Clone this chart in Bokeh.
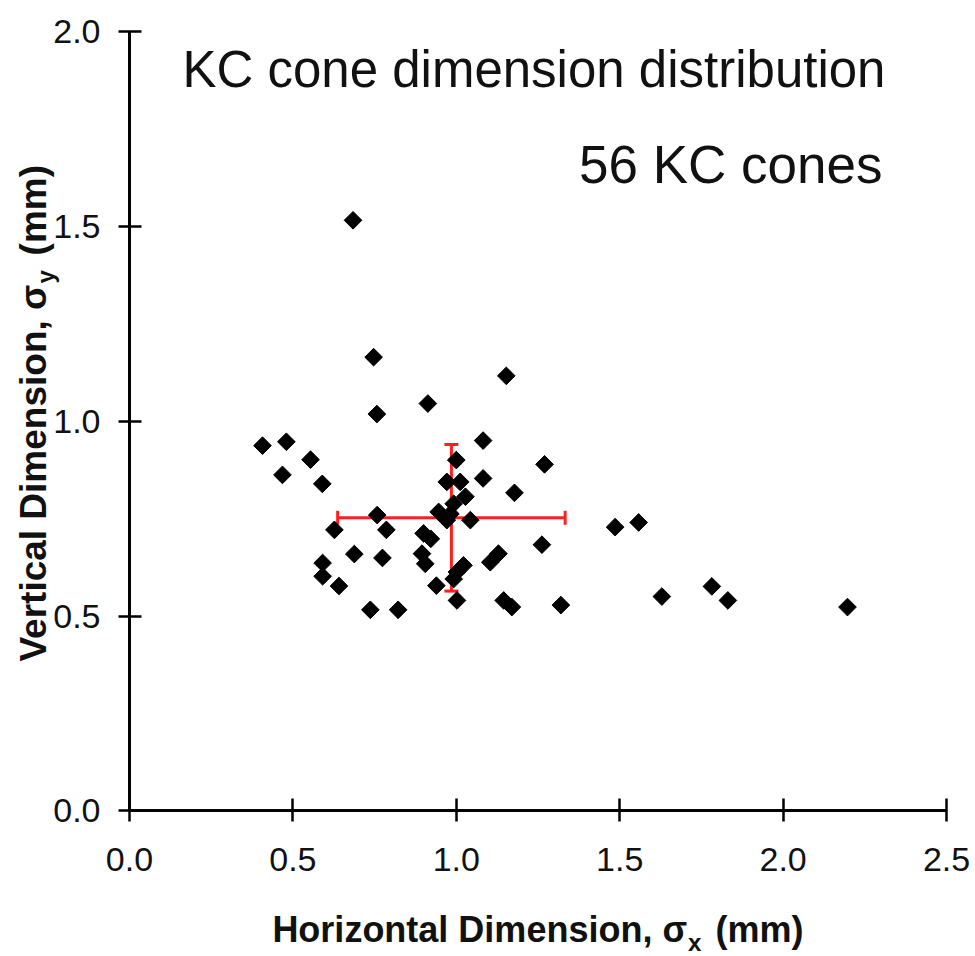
import math
from bokeh.plotting import figure
from bokeh.models import FixedTicker, Label, ColumnDataSource
from bokeh.embed import file_html
from bokeh.resources import INLINE

# ---- data ----
sigma_x = [0.684, 0.747, 1.153, 0.913, 0.757, 1.082, 0.407, 0.480, 0.468, 0.554,
           0.590, 1.270, 1.000, 1.082, 0.971, 1.012, 1.028, 1.178, 0.992, 0.946,
           0.982, 0.971, 1.043, 0.758, 0.786, 0.627, 0.688, 0.774, 0.591, 0.591,
           0.641, 0.737, 0.822, 0.900, 0.922, 0.895, 0.905, 0.939, 1.262, 1.129,
           1.104, 1.022, 1.002, 0.992, 1.002, 1.145, 1.170, 1.320, 1.486, 1.558,
           1.629, 1.782, 1.831, 2.197]
sigma_y = [1.515, 1.164, 1.116, 1.045, 1.018, 0.950, 0.937, 0.947, 0.862, 0.901,
           0.839, 0.889, 0.900, 0.853, 0.844, 0.844, 0.806, 0.816, 0.788, 0.767,
           0.762, 0.746, 0.746, 0.759, 0.721, 0.721, 0.659, 0.649, 0.636, 0.602,
           0.577, 0.516, 0.516, 0.712, 0.698, 0.660, 0.634, 0.578, 0.683, 0.660,
           0.638, 0.630, 0.613, 0.595, 0.540, 0.540, 0.523, 0.528, 0.728, 0.740,
           0.550, 0.576, 0.540, 0.523]

mean_x, sd_x = 0.985, 0.348
mean_y, sd_y = 0.752, 0.188

x_ticks = [0.0, 0.5, 1.0, 1.5, 2.0, 2.5]
x_tick_labels = ["0.0", "0.5", "1.0", "1.5", "2.0", "2.5"]
y_ticks = [0.0, 0.5, 1.0, 1.5, 2.0]
y_tick_labels = ["0.0", "0.5", "1.0", "1.5", "2.0"]

title_text = "KC cone dimension distribution"
count_text = "56 KC cones"

FONT = "Liberation Sans"

# frame covers the whole canvas; axes are drawn at x=0 / y=0 via fixed_location
p = figure(width=975, height=956, x_range=(-0.3947, 2.5887), y_range=(-0.3732, 2.0787),
           output_backend="svg", toolbar_location=None, min_border=0)
p.outline_line_color = None
p.grid.visible = False
p.background_fill_color = "white"
p.border_fill_color = "white"

for ax, ticks, labels, standoff, bounds in (
        (p.xaxis[0], x_ticks, x_tick_labels, 26, (0, 2.5)),
        (p.yaxis[0], y_ticks, y_tick_labels, 18, (0, 2.0))):
    ax.fixed_location = 0
    ax.bounds = bounds
    ax.ticker = FixedTicker(ticks=ticks)
    ax.major_label_overrides = {t: l for t, l in zip(ticks, labels)}
    ax.minor_tick_line_color = None
    ax.axis_line_width = 3
    ax.axis_line_color = "black"
    ax.major_tick_line_width = 2.5
    ax.major_tick_line_color = "black"
    ax.major_tick_in = 12
    ax.major_tick_out = 11
    ax.major_label_text_font = FONT
    ax.major_label_text_font_size = "34px"
    ax.major_label_text_color = "#111111"
    ax.major_label_standoff = standoff

# error bars (mean +/- sd)
red = "#ff1f1f"
err = ColumnDataSource(dict(x0=[mean_x - sd_x, mean_x], y0=[mean_y, mean_y - sd_y],
                            x1=[mean_x + sd_x, mean_x], y1=[mean_y, mean_y + sd_y]))
p.segment("x0", "y0", "x1", "y1", source=err, line_color=red, line_width=3)
p.scatter([mean_x - sd_x, mean_x + sd_x], [mean_y, mean_y], marker="dash",
          angle=math.pi / 2, size=14, line_color=red, line_width=3)
p.scatter([mean_x, mean_x], [mean_y - sd_y, mean_y + sd_y], marker="dash",
          size=14, line_color=red, line_width=3)

# points
p.scatter(sigma_x, sigma_y, marker="square", angle=math.pi / 4, size=12.5,
          fill_color="black", line_color="black", line_width=1)

# texts
p.add_layout(Label(x=0.162, y=1.902, text=title_text, text_font=FONT,
                   text_font_size="51px", text_color="#111111",
                   text_baseline="alphabetic"))
p.add_layout(Label(x=2.304, y=1.657, text=count_text, text_font=FONT,
                   text_font_size="53px", text_color="#111111",
                   text_align="right", text_baseline="alphabetic"))

# x-axis label with subscript
lab_kw = dict(text_font=FONT, text_font_style="bold", text_color="#111111",
              text_baseline="alphabetic")
p.add_layout(Label(x=1.706, y=-0.304, text="Horizontal Dimension, \u03c3",
                   text_font_size="36px", text_align="right", **lab_kw))
p.add_layout(Label(x=1.709, y=-0.337, text="x", text_font_size="24px",
                   text_align="left", **lab_kw))
p.add_layout(Label(x=1.793, y=-0.304, text="(mm)", text_font_size="36px",
                   text_align="left", **lab_kw))

# y-axis label with subscript (rotated)
p.add_layout(Label(x=-0.294, y=1.350, text="Vertical Dimension, \u03c3",
                   text_font_size="37px", text_align="right", angle=math.pi / 2,
                   **lab_kw))
p.add_layout(Label(x=-0.258, y=1.353, text="y", text_font_size="24px",
                   text_align="left", angle=math.pi / 2, **lab_kw))
p.add_layout(Label(x=-0.294, y=1.425, text="(mm)", text_font_size="37px",
                   text_align="left", angle=math.pi / 2, **lab_kw))

open("out.html", "w").write(file_html(p, INLINE))
